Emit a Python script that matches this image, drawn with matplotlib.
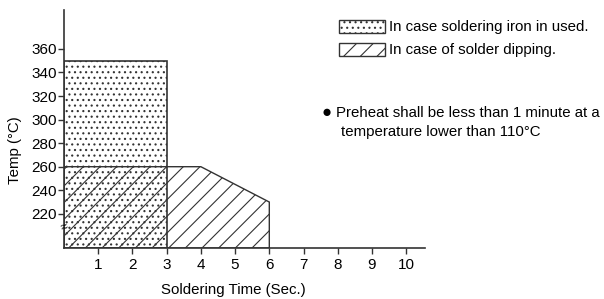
import matplotlib.pyplot as plt
from matplotlib.patches import Polygon, Rectangle

plt.rcParams['font.family'] = ['Liberation Sans', 'DejaVu Sans']
plt.rcParams['hatch.linewidth'] = 0.8

# soldering iron area: up to 3 s at 350 C
iron_time = 3
iron_temp = 350

# solder dipping profile (time, temp)
dip_time = [0, 4, 6]
dip_temp = [260, 260, 230]

x_ticks = [1, 2, 3, 4, 5, 6, 7, 8, 9, 10]
y_ticks = [220, 240, 260, 280, 300, 320, 340, 360]
y_min, y_max = 191, 393

fig = plt.figure(figsize=(6.04, 2.99), dpi=100)
ax = fig.add_axes([64 / 604, (299 - 248) / 299, (425 - 64) / 604, (248 - 10) / 299])

edge = '#333333'

# dotted rectangle (soldering iron)
ax.add_patch(Rectangle((0, y_min), iron_time, iron_temp - y_min, facecolor='none',
                       edgecolor=edge, hatch='...', linewidth=1.2))

# hatched polygon (solder dipping)
pts = [(0, y_min)] + list(zip(dip_time, dip_temp)) + [(dip_time[-1], y_min)]
ax.add_patch(Polygon(pts, closed=True, facecolor='none', edgecolor=edge,
                     hatch='//', linewidth=1.0))

ax.set_xlim(0, 10.55)
ax.set_ylim(y_min, y_max)
ax.set_xticks(x_ticks)
ax.set_yticks(y_ticks)
ax.tick_params(axis='x', direction='out', length=4, width=1, colors=edge, labelcolor='black',
               labelsize=11, pad=3)
ax.tick_params(axis='y', direction='out', length=4, width=1, colors=edge, labelcolor='black',
               labelsize=11, pad=1)
for s in ['top', 'right']:
    ax.spines[s].set_visible(False)
for s in ['left', 'bottom']:
    ax.spines[s].set_color(edge)
    ax.spines[s].set_linewidth(1.2)

ax.set_xlabel('Soldering Time (Sec.)', fontsize=10.8)
ax.xaxis.set_label_coords((233 - 64) / 361, -(290 - 248) / 238)
ax.xaxis.label.set_va('center')
ax.set_ylabel('Temp (°C)', fontsize=10.8)
ax.yaxis.set_label_coords((15.5 - 64) / 361, (248 - 150) / 238)
ax.yaxis.label.set_va('center')

# axis break mark
fig.text(65 / 604, 1 - 228 / 299, '≈', fontsize=9, ha='center', va='center', rotation=20)

# legend boxes drawn in figure coords
W, H = 604, 299
fig.patches.append(Rectangle((339 / W, 1 - 33 / H), 46 / W, 13 / H, transform=fig.transFigure,
                             facecolor='none', edgecolor=edge, hatch='...', linewidth=1.0))
fig.patches.append(Rectangle((339 / W, 1 - 56 / H), 46 / W, 13 / H, transform=fig.transFigure,
                             facecolor='none', edgecolor=edge, hatch='//', linewidth=1.0))
fig.text(389 / W, 1 - 27 / H, 'In case soldering iron in used.', fontsize=10.8, va='center')
fig.text(389 / W, 1 - 50 / H, 'In case of solder dipping.', fontsize=10.8, va='center')

fig.text(327 / W, 1 - 113 / H, '●', fontsize=12, va='center', ha='center')
fig.text(336 / W, 1 - 113 / H, 'Preheat shall be less than 1 minute at a', fontsize=10.8, va='center')
fig.text(341 / W, 1 - 132 / H, 'temperature lower than 110°C', fontsize=10.8, va='center')

fig.savefig('out.png', dpi=100)
